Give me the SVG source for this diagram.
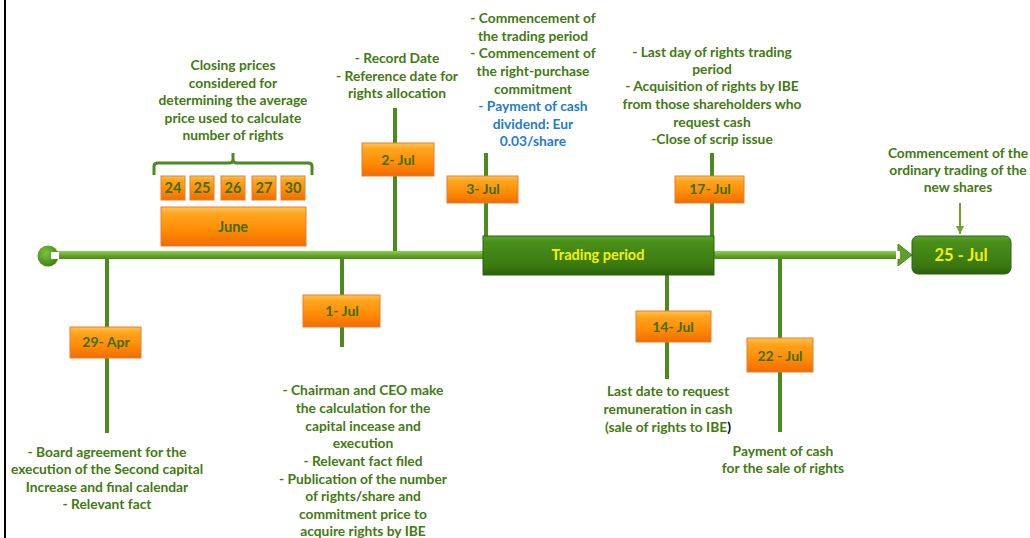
<svg xmlns="http://www.w3.org/2000/svg" width="1030" height="538" viewBox="0 0 1030 538">
<defs>
<linearGradient id="og" x1="0" y1="0" x2="0" y2="1">
<stop offset="0" stop-color="#ffc452"/>
<stop offset="0.18" stop-color="#ffa51e"/>
<stop offset="0.6" stop-color="#ff8c05"/>
<stop offset="1" stop-color="#f06c00"/>
</linearGradient>
<linearGradient id="gg" x1="0" y1="0" x2="0" y2="1">
<stop offset="0" stop-color="#5aa528"/>
<stop offset="0.15" stop-color="#4a8f1a"/>
<stop offset="0.8" stop-color="#3a7810"/>
<stop offset="1" stop-color="#2c5e08"/>
</linearGradient>
<linearGradient id="bar" x1="0" y1="0" x2="0" y2="1">
<stop offset="0" stop-color="#8ccc52"/>
<stop offset="0.35" stop-color="#74b83a"/>
<stop offset="0.6" stop-color="#5e9f28"/>
<stop offset="1" stop-color="#4d8a1c"/>
</linearGradient>
<radialGradient id="cg" cx="0.4" cy="0.35" r="0.7">
<stop offset="0" stop-color="#7cc43e"/>
<stop offset="1" stop-color="#3f7e12"/>
</radialGradient>
<marker id="ah" markerWidth="8" markerHeight="8" refX="8" refY="4" orient="auto" markerUnits="userSpaceOnUse" viewBox="0 0 8 8">
<path d="M0,0 L8,4 L0,8 Z" fill="#6aa52a"/>
</marker>
</defs>
<style>
text{font-family:Lato,"Liberation Sans",sans-serif;font-weight:bold;text-anchor:middle;}
.t{font-size:13.8px;fill:#437a12;}
.b{fill:#1f7ccc;}
.k{fill:#000;}
.ob{fill:url(#og);stroke:#e0803c;stroke-width:1;}
.gb{fill:url(#gg);stroke:#2f6410;stroke-width:1;}
.ol{font-size:14px;fill:#3f6c10;}
.yl{fill:#f2f200;}
.stem{stroke:#4b8a1f;stroke-width:4;fill:none;}
</style>
<rect width="1030" height="538" fill="#fff"/>
<line x1="5" y1="0" x2="5" y2="538" stroke="#000" stroke-width="2"/>

<g id="connectors">
<rect x="50" y="251" width="850" height="8" fill="url(#bar)"/>
<g id="start-cap">
<circle cx="48" cy="256" r="10.5" fill="url(#cg)"/>
<rect x="51" y="252" width="8" height="7" fill="#fff"/>
</g>
<path d="M898,244 L912,255 L898,266 Z" fill="#5ea02a" stroke="#4b8a1f" stroke-width="1"/>
<rect x="896" y="251" width="4" height="8" fill="#fff"/>
<line class="stem" x1="107" y1="259" x2="107" y2="433"/>
<line class="stem" x1="342" y1="259" x2="342" y2="347"/>
<line class="stem" x1="395" y1="108" x2="395" y2="251"/>
<line class="stem" x1="486" y1="153" x2="486" y2="236"/>
<line class="stem" x1="712" y1="153" x2="712" y2="251"/>
<line class="stem" x1="667" y1="275" x2="667" y2="379"/>
<line class="stem" x1="780" y1="259" x2="780" y2="432"/>
<line x1="960" y1="203" x2="960" y2="234" stroke="#6aa52a" stroke-width="2" marker-end="url(#ah)"/>
<path d="M154,175 L154,166 Q154,163 158,163 L229,163 Q233,163 233,159 L233,153 M233,159 Q233,163 237,163 L308,163 Q312,163 312,166 L312,175" fill="none" stroke="#4b8a1f" stroke-width="3"/>
</g>

<g id="closing-prices">
<text class="t"><tspan x="233" y="70">Closing prices</tspan><tspan x="233" y="88">considered for</tspan><tspan x="233" y="105">determining the average</tspan><tspan x="233" y="123">price used to calculate</tspan><tspan x="233" y="140">number of rights</tspan></text>
</g>
<g id="day-24"><rect class="ob" x="161" y="176" width="24" height="24"/><text class="ol" x="173" y="193" style="font-size:14.5px">24</text></g>
<g id="day-25"><rect class="ob" x="190" y="176" width="24" height="24"/><text class="ol" x="202" y="193" style="font-size:14.5px">25</text></g>
<g id="day-26"><rect class="ob" x="221" y="176" width="24" height="24"/><text class="ol" x="233" y="193" style="font-size:14.5px">26</text></g>
<g id="day-27"><rect class="ob" x="252" y="176" width="24" height="24"/><text class="ol" x="264" y="193" style="font-size:14.5px">27</text></g>
<g id="day-30"><rect class="ob" x="281" y="176" width="24" height="24"/><text class="ol" x="293" y="193" style="font-size:14.5px">30</text></g>
<g id="june"><rect class="ob" x="161" y="207" width="145" height="39"/><text class="ol" x="233" y="232" style="font-size:14.5px">June</text></g>

<g id="n-29apr">
<rect class="ob" x="70" y="327" width="71" height="31"/><text class="ol" x="106" y="347">29- Apr</text>
<text class="t"><tspan x="107" y="457">-  Board agreement for the</tspan><tspan x="107" y="474">execution of the Second capital</tspan><tspan x="107" y="492">Increase and final calendar</tspan><tspan x="107" y="509">-  Relevant fact</tspan></text>
</g>

<g id="n-1jul">
<rect class="ob" x="303" y="295" width="77" height="32"/><text class="ol" x="342" y="316">1- Jul</text>
<text class="t"><tspan x="363" y="395">- Chairman and CEO make</tspan><tspan x="363" y="413">the calculation for the</tspan><tspan x="363" y="431">capital incease and</tspan><tspan x="363" y="448">execution</tspan><tspan x="363" y="466">- Relevant fact filed</tspan><tspan x="363" y="484">- Publication of the number</tspan><tspan x="363" y="501">of rights/share and</tspan><tspan x="363" y="519">commitment price to</tspan><tspan x="363" y="536">acquire rights by IBE</tspan></text>
</g>

<g id="n-2jul">
<rect class="ob" x="362" y="143" width="72" height="33"/><text class="ol" x="398" y="165">2- Jul</text>
<text class="t"><tspan x="397" y="63">- Record Date</tspan><tspan x="397" y="81">- Reference date for</tspan><tspan x="397" y="98">rights allocation</tspan></text>
</g>

<g id="n-3jul">
<rect class="ob" x="447" y="176" width="71" height="27"/><text class="ol" x="483" y="194">3- Jul</text>
<text class="t"><tspan x="533" y="23">- Commencement of</tspan><tspan x="533" y="41">the trading period</tspan><tspan x="533" y="58">- Commencement of</tspan><tspan x="533" y="76">the right-purchase</tspan><tspan x="533" y="94">commitment</tspan><tspan class="b" x="533" y="111">- Payment of cash</tspan><tspan class="b" x="533" y="129">dividend: Eur</tspan><tspan class="b" x="533" y="146">0.03/share</tspan></text>
</g>

<g id="trading-period">
<rect class="gb" x="483" y="236" width="231" height="39"/><text class="yl" x="598" y="260" style="font-size:14.5px">Trading period</text>
</g>

<g id="n-17jul">
<rect class="ob" x="675" y="176" width="69" height="27"/><text class="ol" x="710" y="194">17- Jul</text>
<text class="t"><tspan x="712" y="57">-  Last day of rights trading</tspan><tspan x="712" y="74">period</tspan><tspan x="712" y="91">- Acquisition of rights by IBE</tspan><tspan x="712" y="109">from those shareholders who</tspan><tspan x="712" y="127">request cash</tspan><tspan x="712" y="144">-Close of scrip issue</tspan></text>
</g>

<g id="n-14jul">
<rect class="ob" x="636" y="311" width="75" height="31"/><text class="ol" x="673" y="332">14- Jul</text>
<text class="t"><tspan x="668" y="396">Last date to request</tspan><tspan x="668" y="414">remuneration in cash</tspan><tspan x="668" y="432">(sale of rights to IBE<tspan class="k">)</tspan></tspan></text>
</g>

<g id="n-22jul">
<rect class="ob" x="747" y="338" width="66" height="34"/><text class="ol" x="780" y="361">22 - Jul</text>
<text class="t"><tspan x="783" y="456">Payment of cash</tspan><tspan x="783" y="473">for the sale of rights</tspan></text>
</g>

<g id="n-25jul">
<rect class="gb" x="912" y="236" width="99" height="38" rx="6"/><text class="yl" x="961" y="261" style="font-size:16.5px">25 - Jul</text>
<text class="t"><tspan x="958" y="158">Commencement of the</tspan><tspan x="958" y="175">ordinary trading of the</tspan><tspan x="958" y="192">new shares</tspan></text>
</g>
</svg>
